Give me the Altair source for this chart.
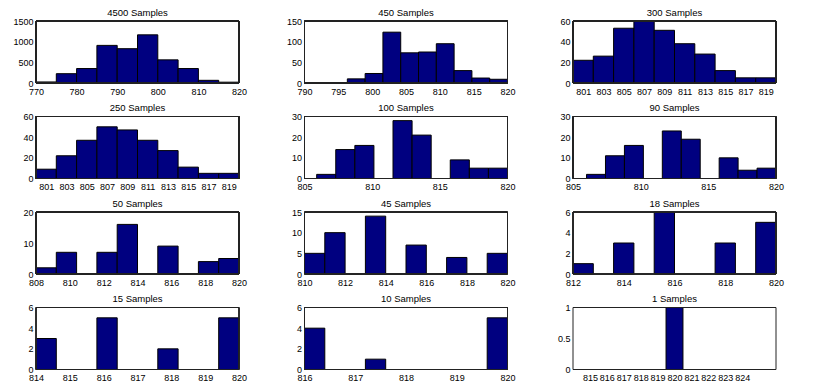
import altair as alt
import pandas as pd

titles = ["4500 Samples", "450 Samples", "300 Samples", "250 Samples",
          "100 Samples", "90 Samples", "50 Samples", "45 Samples",
          "18 Samples", "15 Samples", "10 Samples", "1 Samples"]

counts = [
    [25, 225, 350, 910, 830, 1165, 560, 350, 65, 20],
    [1, 10, 23, 123, 73, 75, 95, 30, 12, 9],
    [22, 26, 53, 60, 51, 38, 28, 12, 5, 5],
    [9, 22, 37, 50, 47, 37, 27, 11, 5, 5],
    [2, 14, 16, 0, 28, 21, 0, 9, 5, 5],
    [2, 11, 16, 0, 23, 19, 0, 10, 4, 5],
    [2, 7, 0, 7, 16, 0, 9, 0, 4, 5],
    [5, 10, 0, 14, 0, 7, 0, 4, 0, 5],
    [1, 0, 3, 0, 6, 0, 0, 3, 0, 5],
    [3, 0, 0, 5, 0, 0, 2, 0, 0, 5],
    [4, 0, 0, 1, 0, 0, 0, 0, 0, 5],
    [0, 0, 0, 0, 0, 1, 0, 0, 0, 0],
]

bin_ranges = [(770, 820), (793.7, 820), (800, 820), (800, 820), (805.9, 820),
              (806, 820), (808, 820), (810, 820), (812, 820), (814, 820),
              (816, 820), (814.5, 824.5)]

x_domains = [(770, 820), (790, 820), (800, 820), (800, 820), (805, 820),
             (805, 820), (808, 820), (810, 820), (812, 820), (814, 820),
             (816, 820), (814, 826)]

x_ticks = [
    [770, 780, 790, 800, 810, 820],
    [790, 795, 800, 805, 810, 815, 820],
    [801, 803, 805, 807, 809, 811, 813, 815, 817, 819],
    [801, 803, 805, 807, 809, 811, 813, 815, 817, 819],
    [805, 810, 815, 820],
    [805, 810, 815, 820],
    [808, 810, 812, 814, 816, 818, 820],
    [810, 812, 814, 816, 818, 820],
    [812, 814, 816, 818, 820],
    [814, 815, 816, 817, 818, 819, 820],
    [816, 817, 818, 819, 820],
    [815, 816, 817, 818, 819, 820, 821, 822, 823, 824],
]

y_max = [1500, 150, 60, 60, 30, 30, 20, 15, 6, 6, 6, 1]
y_ticks = [
    [0, 500, 1000, 1500],
    [0, 50, 100, 150],
    [0, 20, 40, 60],
    [0, 20, 40, 60],
    [0, 10, 20, 30],
    [0, 10, 20, 30],
    [0, 10, 20],
    [0, 5, 10, 15],
    [0, 2, 4, 6],
    [0, 2, 4, 6],
    [0, 2, 4, 6],
    [0, 0.5, 1],
]

FONT = "Liberation Sans"
W, H = 203, 62


def panel(i):
    lo, hi = bin_ranges[i]
    n = len(counts[i])
    w = (hi - lo) / n
    df = pd.DataFrame({
        "x0": [lo + k * w for k in range(n)],
        "x1": [lo + (k + 1) * w for k in range(n)],
        "count": counts[i],
    })
    df = df[df["count"] > 0]
    xs = alt.Scale(domain=list(x_domains[i]), nice=False, zero=False)
    ys = alt.Scale(domain=[0, y_max[i]], nice=False)
    common = dict(domain=False, grid=False, ticks=False,
                  format=".6~g", labelFont=FONT, labelFontSize=9,
                  labelColor="#000", labelFlush=False, labelOverlap=False,
                  title=None)
    xaxis = alt.Axis(values=x_ticks[i], labelPadding=4, **common)
    yaxis = alt.Axis(values=y_ticks[i], labelPadding=3, **common)
    bars = alt.Chart(df).mark_bar(color="#000080", stroke="#000", strokeWidth=1).encode(
        x=alt.X("x0:Q", scale=xs, axis=xaxis),
        x2="x1:Q",
        y=alt.Y("count:Q", scale=ys, axis=yaxis),
        y2=alt.datum(0),
    )
    box = alt.Chart(df).mark_rect(fill=None, stroke="#222", strokeWidth=1).encode(
        x=alt.XDatum(x_domains[i][0], type="quantitative", scale=xs, axis=xaxis),
        x2=alt.X2Datum(x_domains[i][1]),
        y=alt.YDatum(0, type="quantitative", scale=ys, axis=yaxis),
        y2=alt.Y2Datum(y_max[i]),
    )
    return alt.layer(bars, box, title=alt.TitleParams(
        titles[i], font=FONT, fontSize=9.5, fontWeight="normal", color="#000", offset=0
    )).properties(width=W, height=H)


chart = alt.concat(*[panel(i) for i in range(12)], columns=3,
                   spacing=alt.RowColnumber(row=33.5, column=65.5),
                   bounds="flush").properties(
    padding={"left": 4, "top": -1, "right": 5, "bottom": 0}
).configure(background="white").configure_view(stroke=None)

chart.save("out.html", embed_options={"renderer": "svg", "actions": False})
